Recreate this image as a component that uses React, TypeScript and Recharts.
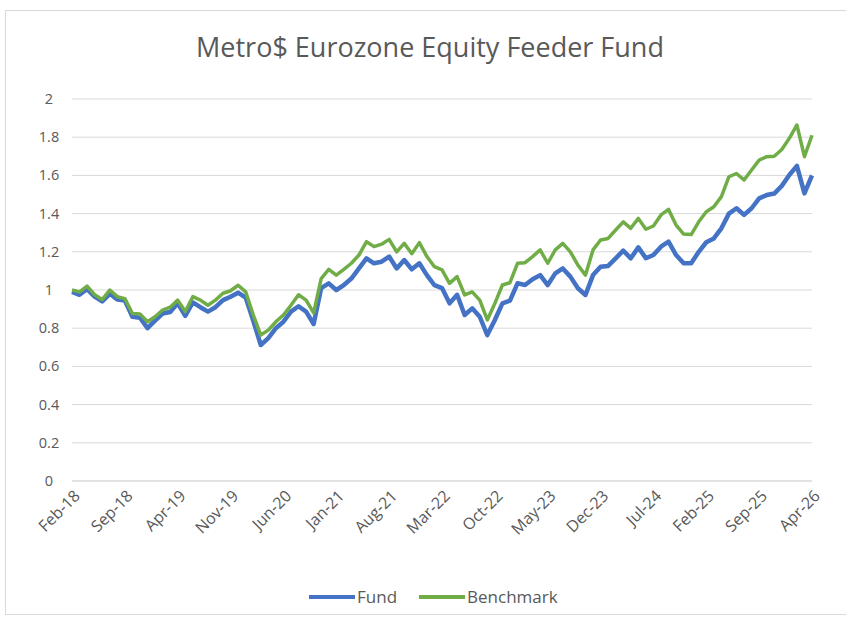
import React from "react";
import { LineChart, Line, XAxis, YAxis, CartesianGrid } from "recharts";

const months: string[] = [
  "Feb-18","Mar-18","Apr-18","May-18","Jun-18","Jul-18","Aug-18","Sep-18","Oct-18","Nov-18","Dec-18",
  "Jan-19","Feb-19","Mar-19","Apr-19","May-19","Jun-19","Jul-19","Aug-19","Sep-19","Oct-19","Nov-19","Dec-19",
  "Jan-20","Feb-20","Mar-20","Apr-20","May-20","Jun-20","Jul-20","Aug-20","Sep-20","Oct-20","Nov-20","Dec-20",
  "Jan-21","Feb-21","Mar-21","Apr-21","May-21","Jun-21","Jul-21","Aug-21","Sep-21","Oct-21","Nov-21","Dec-21",
  "Jan-22","Feb-22","Mar-22","Apr-22","May-22","Jun-22","Jul-22","Aug-22","Sep-22","Oct-22","Nov-22","Dec-22",
  "Jan-23","Feb-23","Mar-23","Apr-23","May-23","Jun-23","Jul-23","Aug-23","Sep-23","Oct-23","Nov-23","Dec-23",
  "Jan-24","Feb-24","Mar-24","Apr-24","May-24","Jun-24","Jul-24","Aug-24","Sep-24","Oct-24","Nov-24","Dec-24",
  "Jan-25","Feb-25","Mar-25","Apr-25","May-25","Jun-25","Jul-25","Aug-25","Sep-25","Oct-25","Nov-25","Dec-25",
  "Jan-26","Feb-26","Mar-26","Apr-26"
];

const fund: number[] = [
  0.99, 0.975, 1.005, 0.965, 0.94, 0.98, 0.95, 0.945, 0.86, 0.855, 0.80,
  0.84, 0.877, 0.885, 0.93, 0.865, 0.935, 0.91, 0.887, 0.91, 0.947, 0.965, 0.986,
  0.96, 0.84, 0.712, 0.748, 0.80, 0.834, 0.887, 0.915, 0.887, 0.822, 1.01, 1.035,
  1.0, 1.026, 1.06, 1.113, 1.166, 1.14, 1.148, 1.175, 1.113, 1.157, 1.108, 1.14,
  1.078, 1.025, 1.01, 0.93, 0.975, 0.869, 0.904, 0.86, 0.764, 0.843, 0.93, 0.944,
  1.035, 1.026, 1.056, 1.078, 1.026, 1.087, 1.113, 1.07, 1.009, 0.974, 1.078, 1.122,
  1.126, 1.166, 1.206, 1.166, 1.223, 1.166, 1.183, 1.227, 1.253, 1.183, 1.14, 1.14,
  1.20, 1.25, 1.27, 1.323, 1.40, 1.428, 1.393, 1.428, 1.48, 1.497, 1.505, 1.545,
  1.602, 1.65, 1.506, 1.60
];

const benchmark: number[] = [
  1.0, 0.99, 1.02, 0.975, 0.95, 1.0, 0.965, 0.955, 0.877, 0.875, 0.834,
  0.86, 0.895, 0.91, 0.947, 0.887, 0.965, 0.947, 0.92, 0.947, 0.983, 0.996, 1.025,
  0.99, 0.87, 0.764, 0.79, 0.834, 0.869, 0.92, 0.975, 0.947, 0.88, 1.06, 1.108,
  1.078, 1.108, 1.14, 1.183, 1.253, 1.227, 1.24, 1.265, 1.2, 1.244, 1.19, 1.248,
  1.175, 1.122, 1.105, 1.035, 1.07, 0.974, 0.99, 0.947, 0.843, 0.93, 1.026, 1.038,
  1.14, 1.143, 1.175, 1.21, 1.14, 1.21, 1.244, 1.2, 1.13, 1.078, 1.21, 1.262,
  1.27, 1.314, 1.357, 1.323, 1.375, 1.318, 1.335, 1.393, 1.422, 1.34, 1.293, 1.29,
  1.357, 1.41, 1.436, 1.489, 1.593, 1.61, 1.576, 1.628, 1.68, 1.698, 1.70, 1.736,
  1.794, 1.864, 1.698, 1.81
];

const xTicks: string[] = [
  "Feb-18","Sep-18","Apr-19","Nov-19","Jun-20","Jan-21","Aug-21","Mar-22",
  "Oct-22","May-23","Dec-23","Jul-24","Feb-25","Sep-25","Apr-26"
];

const yTicks: number[] = [0, 0.2, 0.4, 0.6, 0.8, 1, 1.2, 1.4, 1.6, 1.8, 2];

const data = months.map((m, i) => ({ month: m, Fund: fund[i], Benchmark: benchmark[i] }));

const FONT = "'Open Sans', 'Noto Sans', sans-serif";
const TEXT = "#595959";

const XTick = (props: any) => {
  const { x, payload } = props;
  return (
    <g transform={`translate(${x + 5},${493})`}>
      <text x={0} y={0} dy="0.35em" textAnchor="end" transform="rotate(-45)" fill={TEXT} fontSize={16} fontFamily={FONT}>
        {payload.value}
      </text>
    </g>
  );
};

const YTick = (props: any) => {
  const { y, payload } = props;
  return (
    <text x={49} y={y} dy="0.35em" textAnchor="middle" fill={TEXT} fontSize={14.5} fontFamily={FONT}>
      {String(payload.value)}
    </text>
  );
};

export default function App() {
  return (
    <div style={{ position: "absolute", left: 0, top: 0, width: 846, height: 623, background: "#fff", overflow: "hidden" }}>
      <div style={{ position: "absolute", left: 5, top: 10, width: 900, height: 603, borderLeft: "1px solid #d9d9d9", borderTop: "1px solid #d9d9d9", borderBottom: "1px solid #d9d9d9" }} />
      <div style={{ position: "absolute", left: 0, top: 28, width: 860, textAlign: "center", fontFamily: FONT, fontSize: 27, color: TEXT }}>
        Metro$ Eurozone Equity Feeder Fund
      </div>
      <div style={{ position: "absolute", left: 0, top: 0 }}>
        <LineChart width={846} height={623} data={data} margin={{ top: 99, right: 34, left: 32, bottom: 62 }}>
          <CartesianGrid vertical={false} stroke="#d9d9d9" strokeWidth={1} />
          <XAxis dataKey="month" ticks={xTicks} interval={0} tick={<XTick />} tickLine={false} axisLine={{ stroke: "#d9d9d9" }} height={80} />
          <YAxis domain={[0, 2]} ticks={yTicks} tick={<YTick />} tickLine={false} axisLine={false} width={40} />
          <Line type="linear" dataKey="Fund" stroke="#4472C4" strokeWidth={4.5} dot={false} isAnimationActive={false} strokeLinejoin="round" />
          <Line type="linear" dataKey="Benchmark" stroke="#70AD47" strokeWidth={3.5} dot={false} isAnimationActive={false} strokeLinejoin="round" />
        </LineChart>
      </div>
      <div style={{ position: "absolute", left: 309, top: 585, display: "flex", alignItems: "center", fontFamily: FONT, fontSize: 17, color: TEXT, whiteSpace: "nowrap" }}>
        <span style={{ display: "inline-block", width: 46, height: 4, background: "#4472C4", marginRight: 2 }} />
        <span style={{ marginRight: 22 }}>Fund</span>
        <span style={{ display: "inline-block", width: 46, height: 4, background: "#70AD47", marginRight: 2 }} />
        <span>Benchmark</span>
      </div>
    </div>
  );
}
